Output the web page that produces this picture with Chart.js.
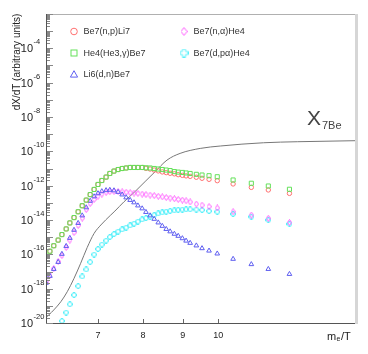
<!DOCTYPE html>
<html>
<head>
<meta charset="utf-8">
<script src="https://cdn.jsdelivr.net/npm/chart.js@4.4.1/dist/chart.umd.min.js"></script>
<style>
  html,body{margin:0;padding:0;background:#fff;}
  canvas{display:block;}
</style>
</head>
<body>
<canvas id="c" width="368" height="354"></canvas>
<script>
// m_e/T values shared by the five reaction series
var xGrid = [6.00,6.07,6.14,6.22,6.29,6.37,6.44,6.52,6.60,6.68,
             6.76,6.84,6.92,7.00,7.08,7.17,7.25,7.34,7.43,7.52,
             7.61,7.70,7.79,7.88,7.98,8.07,8.17,8.27,8.37,8.47,
             8.57,8.67,8.78,8.88,8.99,9.09,9.20,
             9.37,9.53,9.73,9.97,10.45,11.03,11.60,12.35];

// log10(dX/dT)
var be7npLi7 = [-16.10,-15.82,-15.50,-15.17,-14.85,-14.52,-14.17,-13.86,-13.52,-13.17,
                -12.84,-12.52,-12.22,-11.93,-11.70,-11.50,-11.29,-11.15,-11.06,-11.00,
                -10.97,-10.94,-10.94,-10.94,-10.94,-10.99,-11.03,-11.09,-11.14,-11.20,
                -11.24,-11.28,-11.31,-11.36,-11.40,-11.43,-11.46,
                -11.51,-11.57,-11.63,-11.71,-11.90,-12.10,-12.25,-12.45];
var he4he3gBe7 = [-16.10,-15.82,-15.50,-15.17,-14.85,-14.52,-14.17,-13.86,-13.52,-13.17,
                  -12.84,-12.52,-12.22,-11.93,-11.70,-11.50,-11.29,-11.15,-11.06,-11.00,
                  -10.97,-10.94,-10.94,-10.94,-10.94,-10.96,-10.97,-11.00,-11.03,-11.06,
                  -11.09,-11.12,-11.18,-11.21,-11.23,-11.26,-11.29,
                  -11.34,-11.38,-11.42,-11.48,-11.67,-11.86,-12.02,-12.21];
var li6dnBe7 = [-17.67,-17.26,-16.86,-16.45,-15.98,-15.52,-15.05,-14.58,-14.18,-13.74,
                -13.27,-12.89,-12.63,-12.45,-12.33,-12.27,-12.25,-12.28,-12.37,-12.52,
                -12.69,-12.84,-12.98,-13.16,-13.33,-13.54,-13.74,-13.94,-14.15,-14.35,
                -14.53,-14.67,-14.81,-14.93,-15.07,-15.21,-15.34,
                -15.49,-15.65,-15.79,-15.96,-16.27,-16.58,-16.86,-17.15];
var be7naHe4 = [-17.61,-17.23,-16.83,-16.42,-16.07,-15.60,-15.17,-14.73,-14.32,-13.89,
                -13.39,-13.04,-12.80,-12.62,-12.49,-12.39,-12.35,-12.33,-12.34,-12.36,
                -12.38,-12.41,-12.43,-12.45,-12.49,-12.52,-12.55,-12.58,-12.62,-12.65,
                -12.69,-12.72,-12.76,-12.80,-12.84,-12.88,-12.95,
                -13.07,-13.13,-13.22,-13.30,-13.52,-13.71,-13.90,-14.14];
var be7dpaHe4 = [null,null,null,null,-19.88,-19.39,-18.91,-18.37,-17.85,-17.29,
                 -16.88,-16.45,-16.01,-15.69,-15.43,-15.20,-14.99,-14.82,-14.67,-14.55,
                 -14.44,-14.32,-14.21,-14.09,-13.97,-13.89,-13.80,-13.71,-13.62,-13.56,
                 -13.51,-13.47,-13.44,-13.41,-13.39,-13.38,-13.38,
                 -13.39,-13.42,-13.48,-13.52,-13.65,-13.81,-14.00,-14.23];

// X_7Be curve
var lineX   = [6.00,6.05,6.14,6.27,6.39,6.52,6.65,6.78,6.92,7.06,7.27,7.36,7.56,7.81,8.05,8.29,8.59,8.93,9.48,10.06,11.44,12.64,15.0];
var lineLog = [-19.68,-19.53,-19.24,-18.76,-18.18,-17.40,-16.52,-15.60,-14.78,-14.29,-13.71,-13.48,-12.94,-12.35,-11.76,-11.19,-10.51,-10.12,-9.83,-9.69,-9.50,-9.44,-9.38];

var yLabelExp = [-20,-18,-16,-14,-12,-10,-8,-6,-4];
var xTickVals = [7,8,9,10];

var names  = ['Be7(n,p)Li7','He4(He3,\u03b3)Be7','Li6(d,n)Be7','Be7(n,\u03b1)He4','Be7(d,p\u03b1)He4'];
var colors = ['rgb(255,112,112)','rgb(100,225,90)','rgb(95,95,240)','rgb(255,95,255)','rgb(90,240,250)'];
var FONT = '"Liberation Sans", Arial, sans-serif';

function pts(arr){
  var out = [];
  for (var i = 0; i < xGrid.length; i++) if (arr[i] != null) out.push({x: xGrid[i], y: Math.pow(10, arr[i])});
  return out;
}

// marker images: thin diamond and open cross
function diamond(w, h, color){
  var c = document.createElement('canvas'); c.width = w; c.height = h;
  var g = c.getContext('2d'); g.strokeStyle = color; g.lineWidth = 1;
  g.beginPath(); g.moveTo(w/2, 0.5); g.lineTo(w-0.5, h/2); g.lineTo(w/2, h-0.5); g.lineTo(0.5, h/2); g.closePath(); g.stroke();
  return c;
}
function openCross(s, arm, color){
  var c = document.createElement('canvas'); c.width = s; c.height = s;
  var g = c.getContext('2d'); g.strokeStyle = color; g.lineWidth = 1;
  var a = 0.5, b = s/2 - arm, d = s/2 + arm, e = s - 0.5;
  g.beginPath();
  g.moveTo(b,a); g.lineTo(d,a); g.lineTo(d,b); g.lineTo(e,b); g.lineTo(e,d); g.lineTo(d,d);
  g.lineTo(d,e); g.lineTo(b,e); g.lineTo(b,d); g.lineTo(a,d); g.lineTo(a,b); g.lineTo(b,b);
  g.closePath(); g.stroke();
  return c;
}

var magDot = diamond(5, 7, colors[3]);
var cyaDot = openCross(6, 1, colors[4]);
var magLeg = diamond(7, 9, colors[3]);
var cyaLeg = openCross(9, 1.5, colors[4]);

var deco = {
  id: 'deco',
  afterDraw: function(chart){
    var ctx = chart.ctx, a = chart.chartArea, xs = chart.scales.x, ys = chart.scales.y;
    ctx.save();
    ctx.lineWidth = 1;
    // frame
    ctx.strokeStyle = '#b0b0b0';
    ctx.beginPath(); ctx.moveTo(a.left, a.top + 0.5); ctx.lineTo(a.right, a.top + 0.5); ctx.stroke();
    ctx.strokeStyle = '#d6d6d6'; ctx.lineWidth = 3;
    ctx.beginPath(); ctx.moveTo(a.right + 1.5, a.top); ctx.lineTo(a.right + 1.5, a.bottom + 1); ctx.stroke();
    ctx.lineWidth = 1; ctx.strokeStyle = '#555';
    ctx.beginPath(); ctx.moveTo(a.left + 0.5, a.top); ctx.lineTo(a.left + 0.5, a.bottom + 0.5); ctx.lineTo(a.right, a.bottom + 0.5); ctx.stroke();

    // y ticks (inside)
    ctx.strokeStyle = '#888';
    ctx.beginPath();
    for (var d = -20; d <= -2; d++){
      for (var k = 1; k <= 9; k++){
        var v = k * Math.pow(10, d);
        if (v > ys.max * 1.0001) break;
        var py = Math.round(ys.getPixelForValue(v)) + 0.5;
        var len = (k === 1) ? 6 : 3;
        ctx.moveTo(a.left + 1, py); ctx.lineTo(a.left + 1 + len, py);
      }
    }
    ctx.stroke();

    // x ticks (inside)
    ctx.strokeStyle = '#666';
    ctx.beginPath();
    xTickVals.forEach(function(v){
      var px = Math.round(xs.getPixelForValue(v)) + 0.5;
      ctx.moveTo(px, a.bottom); ctx.lineTo(px, a.bottom - 4);
    });
    ctx.stroke();

    // y labels 10^n
    ctx.fillStyle = '#222';
    yLabelExp.forEach(function(n){
      var py = ys.getPixelForValue(Math.pow(10, n));
      ctx.font = '11px ' + FONT; ctx.textAlign = 'right'; ctx.textBaseline = 'middle';
      ctx.fillText('10', 33, py + 1);
      ctx.font = '7.5px ' + FONT; ctx.textAlign = 'left';
      ctx.fillText(String(n), 33.5, py - 6);
    });

    // x labels
    ctx.font = '9px ' + FONT; ctx.textAlign = 'center'; ctx.textBaseline = 'middle';
    xTickVals.forEach(function(v){
      ctx.fillText(String(v), xs.getPixelForValue(v), 336);
    });

    // x title m_e/T
    ctx.textAlign = 'left'; ctx.textBaseline = 'alphabetic';
    ctx.font = '11px ' + FONT; ctx.fillText('m', 327, 339.5);
    ctx.font = '7px ' + FONT; ctx.fillText('e', 336.5, 341);
    ctx.font = '11px ' + FONT; ctx.fillText('/T', 341, 339.5);

    // y title
    ctx.save();
    ctx.translate(17, 62); ctx.rotate(-Math.PI / 2);
    ctx.font = '10px ' + FONT; ctx.textAlign = 'center'; ctx.textBaseline = 'middle';
    ctx.fillText('dX/dT (arbitrary units)', 0, 0);
    ctx.restore();

    // X_7Be label
    ctx.fillStyle = '#444';
    ctx.font = '21px ' + FONT; ctx.textAlign = 'left'; ctx.textBaseline = 'alphabetic';
    ctx.fillText('X', 307, 125);
    ctx.font = '11px ' + FONT;
    ctx.fillText('7Be', 322, 128.5);

    // legend
    var cols = [74, 184], rows = [31.5, 53, 74.5];
    var slots = [[0,0],[0,1],[0,2],[1,0],[1,1]];
    ctx.font = '9px ' + FONT; ctx.textBaseline = 'middle'; ctx.fillStyle = '#333';
    slots.forEach(function(s, i){
      var mx = cols[s[0]], my = rows[s[1]];
      ctx.strokeStyle = colors[i]; ctx.lineWidth = 1;
      ctx.beginPath();
      if (i === 0){ ctx.arc(mx, my, 3.3, 0, Math.PI * 2); ctx.stroke(); }
      else if (i === 1){ ctx.strokeRect(mx - 3, my - 3, 6, 6); }
      else if (i === 2){ ctx.moveTo(mx, my - 3.8); ctx.lineTo(mx + 3.6, my + 2.6); ctx.lineTo(mx - 3.6, my + 2.6); ctx.closePath(); ctx.stroke(); }
      else if (i === 3){ ctx.drawImage(magLeg, mx - 3.5, my - 4.5); }
      else { ctx.drawImage(cyaLeg, mx - 4.5, my - 4.5); }
      ctx.fillStyle = '#333';
      ctx.fillText(names[i], mx + 9.5, my + 0.5);
    });
    ctx.restore();
  }
};

// first dataset in the list is painted last (on top)
new Chart(document.getElementById('c'), {
  type: 'scatter',
  data: {
    datasets: [
      {label: names[1], data: pts(he4he3gBe7), pointStyle: 'rect', pointRadius: 2.9, borderColor: colors[1], backgroundColor: 'transparent', pointBorderWidth: 1},
      {label: names[0], data: pts(be7npLi7), pointStyle: 'circle', pointRadius: 2.2, borderColor: colors[0], backgroundColor: 'transparent', pointBorderWidth: 1},
      {label: names[2], data: pts(li6dnBe7), pointStyle: 'triangle', pointRadius: 2.7, borderColor: colors[2], backgroundColor: 'transparent', pointBorderWidth: 1},
      {label: names[3], data: pts(be7naHe4), pointStyle: magDot, pointRadius: 3, borderColor: colors[3]},
      {label: names[4], data: pts(be7dpaHe4), pointStyle: cyaDot, pointRadius: 3, borderColor: colors[4]},
      {label: 'X7Be',
       data: lineX.map(function(x, i){ return {x: x, y: Math.pow(10, lineLog[i])}; }),
       showLine: true, pointRadius: 0, borderColor: '#777', borderWidth: 1, tension: 0.3,
       cubicInterpolationMode: 'monotone'}
    ]
  },
  options: {
    responsive: false,
    animation: false,
    layout: {padding: {top: 14, right: 13, left: 0, bottom: 0}},
    plugins: {legend: {display: false}, tooltip: {enabled: false}},
    scales: {
      x: {type: 'logarithmic', min: 6, max: 15,
          grid: {display: false}, border: {display: false}, ticks: {display: false},
          afterFit: function(s){ s.height = 31; }},
      y: {type: 'logarithmic', min: 1e-20, max: 1e-2,
          grid: {display: false}, border: {display: false}, ticks: {display: false},
          afterFit: function(s){ s.width = 46; }}
    }
  },
  plugins: [deco]
});
</script>
</body>
</html>
